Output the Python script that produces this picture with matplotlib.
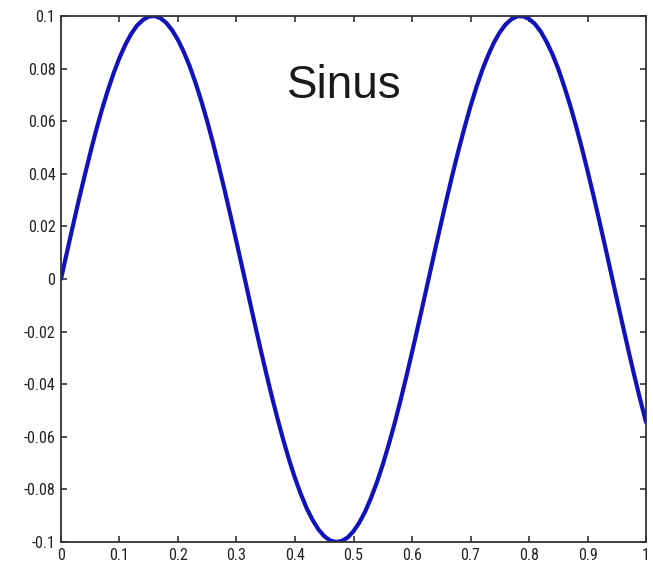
import numpy as np
import matplotlib
matplotlib.use('Agg')
import matplotlib.pyplot as plt

# values, every 0.01 along x
x = np.round(np.arange(0, 1.0001, 0.01), 2)
y = [0.0000, 0.0100, 0.0199, 0.0296, 0.0389, 0.0479, 0.0565, 0.0644, 0.0717, 0.0783,
     0.0841, 0.0891, 0.0932, 0.0964, 0.0985, 0.0998, 0.1000, 0.0992, 0.0974, 0.0946,
     0.0909, 0.0863, 0.0809, 0.0746, 0.0676, 0.0599, 0.0516, 0.0427, 0.0335, 0.0239,
     0.0141, 0.0042, -0.0058, -0.0158, -0.0256, -0.0351, -0.0443, -0.0530, -0.0612, -0.0688,
     -0.0757, -0.0818, -0.0872, -0.0916, -0.0952, -0.0978, -0.0994, -0.1000, -0.0996, -0.0983,
     -0.0959, -0.0926, -0.0884, -0.0832, -0.0773, -0.0706, -0.0631, -0.0551, -0.0465, -0.0374,
     -0.0279, -0.0182, -0.0083, 0.0017, 0.0117, 0.0215, 0.0312, 0.0405, 0.0494, 0.0578,
     0.0657, 0.0729, 0.0794, 0.0850, 0.0899, 0.0938, 0.0968, 0.0988, 0.0999, 0.0999,
     0.0989, 0.0970, 0.0941, 0.0902, 0.0855, 0.0799, 0.0734, 0.0663, 0.0585, 0.0501,
     0.0412, 0.0319, 0.0223, 0.0125, 0.0025, -0.0075, -0.0174, -0.0272, -0.0367, -0.0458,
     -0.0544]

xticks = [0, 0.1, 0.2, 0.3, 0.4, 0.5, 0.6, 0.7, 0.8, 0.9, 1]
xlabels = ['0', '0.1', '0.2', '0.3', '0.4', '0.5', '0.6', '0.7', '0.8', '0.9', '1']
yticks = [-0.1, -0.08, -0.06, -0.04, -0.02, 0, 0.02, 0.04, 0.06, 0.08, 0.1]
ylabels = ['-0.1', '-0.08', '-0.06', '-0.04', '-0.02', '0', '0.02', '0.04', '0.06', '0.08', '0.1']

fig = plt.figure(figsize=(6.53, 5.66), dpi=100)
ax = fig.add_axes([0.0934, 0.0424, 0.8959, 0.9293])

ax.plot(x, y, color='#1212bc', lw=3.0, solid_capstyle='round')
ax.text(0.484, 0.069, 'Sinus', fontsize=33, family='Liberation Sans',
        ha='center', va='baseline', color='#1a1a1a')

ax.set_xlim(0, 1)
ax.set_ylim(-0.1, 0.1)
ax.set_xticks(xticks)
ax.set_xticklabels(xlabels)
ax.set_yticks(yticks)
ax.set_yticklabels(ylabels)
narrow = ['Liberation Sans Narrow', 'Arial Narrow', 'Roboto Condensed', 'DejaVu Sans']
for lab in ax.get_xticklabels() + ax.get_yticklabels():
    lab.set_family(narrow)
    lab.set_fontsize(11.5)
    lab.set_color('#222222')
ax.tick_params(direction='in', top=True, right=True, length=4, width=1.2,
               color='#333333', pad=4)
for s in ax.spines.values():
    s.set_color('#333333')
    s.set_linewidth(1.3)

plt.savefig('out.png', dpi=100)
